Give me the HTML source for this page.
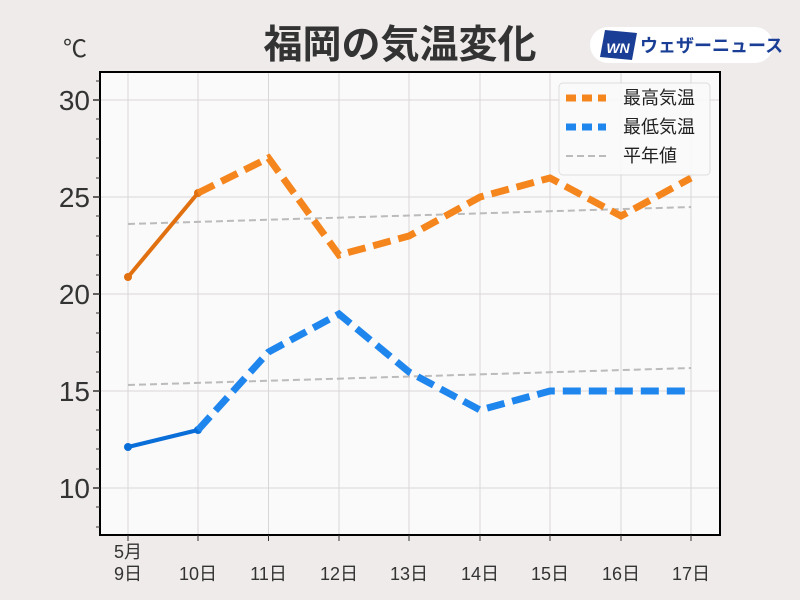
<!DOCTYPE html>
<html><head><meta charset="utf-8"><style>
body{margin:0;background:#eeebea;}
svg{display:block;font-family:"Liberation Sans","Noto Sans CJK JP",sans-serif;}
</style></head><body>
<svg width="800" height="600" viewBox="0 0 800 600">
<rect width="800" height="600" fill="#eeebea"/>
<text x="400" y="58" text-anchor="middle" font-size="39" font-weight="bold" fill="#333">福岡の気温変化</text>
<rect x="590" y="27" width="183" height="36" rx="18" fill="#fff"/>
<polygon points="605,30 637,33 632,60 600,57" fill="#1a3e96"/>
<text x="618" y="53" text-anchor="middle" font-size="14" font-weight="bold" font-style="italic" fill="#fff">WN</text>
<text x="640" y="52" font-size="18" font-weight="bold" fill="#1a3e96">ウェザーニュース</text>
<text x="63" y="57" font-size="24" fill="#333">℃</text>
<rect x="100" y="72" width="620" height="463" fill="#fbfafa"/>
<g stroke="#d8d6d6" stroke-width="1">
<line x1="128" y1="72" x2="128" y2="535"/><line x1="198" y1="72" x2="198" y2="535"/><line x1="268.5" y1="72" x2="268.5" y2="535"/><line x1="339" y1="72" x2="339" y2="535"/><line x1="409" y1="72" x2="409" y2="535"/><line x1="480" y1="72" x2="480" y2="535"/><line x1="550" y1="72" x2="550" y2="535"/><line x1="621" y1="72" x2="621" y2="535"/><line x1="691" y1="72" x2="691" y2="535"/>
<line x1="100" y1="100" x2="720" y2="100"/><line x1="100" y1="197" x2="720" y2="197"/><line x1="100" y1="294" x2="720" y2="294"/><line x1="100" y1="391" x2="720" y2="391"/><line x1="100" y1="488" x2="720" y2="488"/>
</g>
<g stroke="#bbb" stroke-width="2" stroke-dasharray="7,4" fill="none">
<line x1="128" y1="224" x2="691" y2="207"/>
<line x1="128" y1="385" x2="691" y2="368"/>
</g>
<polyline points="128,277 198,193" stroke="#e07010" stroke-width="4" fill="none"/>
<circle cx="128" cy="277" r="4" fill="#e07010"/><circle cx="198" cy="193" r="4" fill="#e07010"/>
<polyline points="198,193 268.5,158 339,255 409,236 480,197 550,178 621,216 691,178" stroke="#f5861e" stroke-width="7" stroke-dasharray="18,8" fill="none"/>
<polyline points="128,447 198,430" stroke="#0a6ed8" stroke-width="4" fill="none"/>
<circle cx="128" cy="447" r="4" fill="#0a6ed8"/><circle cx="198" cy="430" r="4" fill="#0a6ed8"/>
<polyline points="198,430 268.5,352 339,314 409,372 480,410 550,391 621,391 691,391" stroke="#1f86ee" stroke-width="7" stroke-dasharray="18,8" fill="none"/>
<rect x="100" y="72" width="620" height="463" fill="none" stroke="#000" stroke-width="2"/>
<g stroke="#333" stroke-width="1.5">
<line x1="93" y1="100" x2="100" y2="100"/><line x1="93" y1="197" x2="100" y2="197"/><line x1="93" y1="294" x2="100" y2="294"/><line x1="93" y1="391" x2="100" y2="391"/><line x1="93" y1="488" x2="100" y2="488"/>
</g>
<g stroke="#333" stroke-width="1">
<line x1="96" y1="81" x2="100" y2="81"/><line x1="96" y1="119" x2="100" y2="119"/><line x1="96" y1="139" x2="100" y2="139"/><line x1="96" y1="158" x2="100" y2="158"/><line x1="96" y1="178" x2="100" y2="178"/>
<line x1="96" y1="216" x2="100" y2="216"/><line x1="96" y1="236" x2="100" y2="236"/><line x1="96" y1="255" x2="100" y2="255"/><line x1="96" y1="275" x2="100" y2="275"/>
<line x1="96" y1="313" x2="100" y2="313"/><line x1="96" y1="333" x2="100" y2="333"/><line x1="96" y1="352" x2="100" y2="352"/><line x1="96" y1="372" x2="100" y2="372"/>
<line x1="96" y1="410" x2="100" y2="410"/><line x1="96" y1="430" x2="100" y2="430"/><line x1="96" y1="449" x2="100" y2="449"/><line x1="96" y1="469" x2="100" y2="469"/>
<line x1="96" y1="507" x2="100" y2="507"/><line x1="96" y1="527" x2="100" y2="527"/>
<line x1="128" y1="535" x2="128" y2="541"/><line x1="198" y1="535" x2="198" y2="541"/><line x1="268.5" y1="535" x2="268.5" y2="541"/><line x1="339" y1="535" x2="339" y2="541"/><line x1="409" y1="535" x2="409" y2="541"/><line x1="480" y1="535" x2="480" y2="541"/><line x1="550" y1="535" x2="550" y2="541"/><line x1="621" y1="535" x2="621" y2="541"/><line x1="691" y1="535" x2="691" y2="541"/>
</g>
<g font-size="28" fill="#333" text-anchor="end">
<text x="90" y="110">30</text><text x="90" y="207">25</text><text x="90" y="304">20</text><text x="90" y="401">15</text><text x="90" y="498">10</text>
</g>
<g font-size="18" fill="#333" text-anchor="middle">
<text x="128" y="558">5月</text><text x="128" y="580">9日</text><text x="198" y="580">10日</text><text x="268.5" y="580">11日</text><text x="339" y="580">12日</text><text x="409" y="580">13日</text><text x="480" y="580">14日</text><text x="550" y="580">15日</text><text x="621" y="580">16日</text><text x="691" y="580">17日</text>
</g>
<rect x="559" y="83" width="151" height="92" rx="4" fill="#fbfafa" fill-opacity="0.9" stroke="#ddd"/>
<line x1="566" y1="98" x2="606" y2="98" stroke="#f5861e" stroke-width="7" stroke-dasharray="10,6"/>
<line x1="566" y1="127" x2="606" y2="127" stroke="#1f86ee" stroke-width="7" stroke-dasharray="10,6"/>
<line x1="566" y1="156" x2="606" y2="156" stroke="#bbb" stroke-width="2" stroke-dasharray="7,4"/>
<g font-size="18" fill="#222"><text x="623" y="104">最高気温</text><text x="623" y="133">最低気温</text><text x="623" y="162">平年値</text></g>
</svg>
</body></html>
